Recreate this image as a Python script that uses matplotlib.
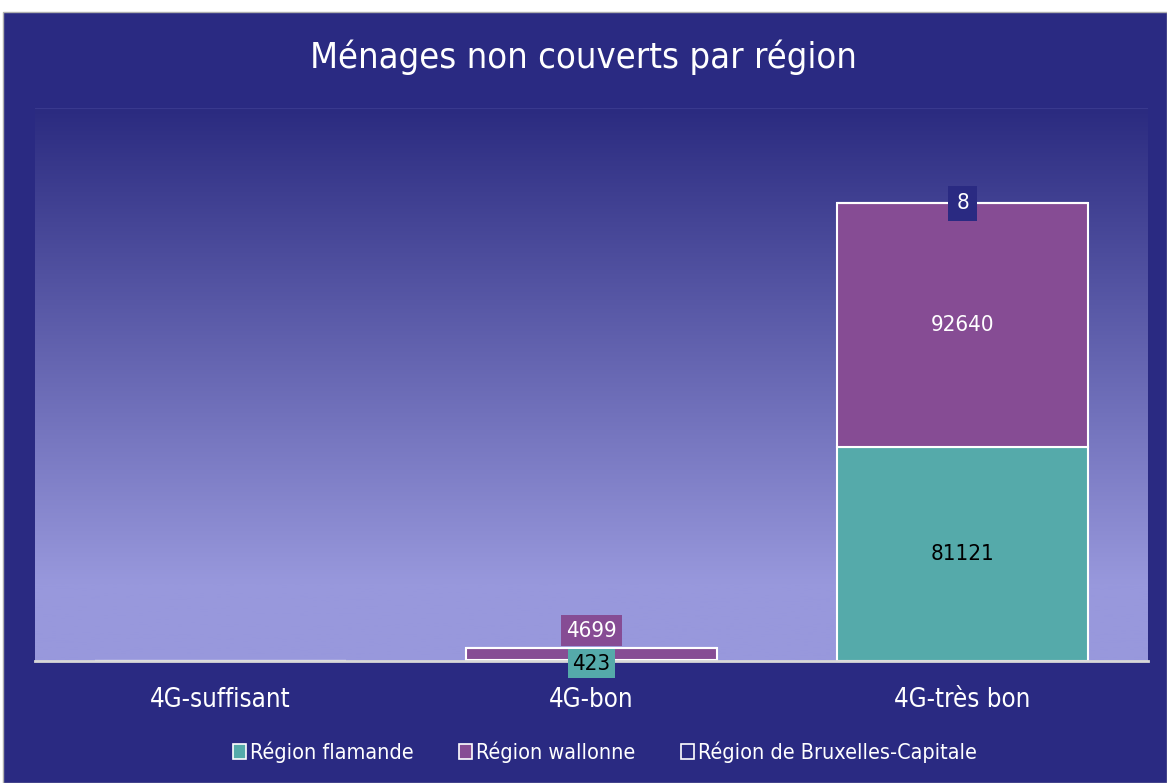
import numpy as np
import matplotlib
matplotlib.use("Agg")
from matplotlib import pyplot as plt
from matplotlib.patches import Rectangle

categories = ["4G-suffisant", "4G-bon", "4G-très bon"]
flamande = [0, 423, 81121]
wallonne = [0, 4699, 92640]
bruxelles = [0, 0, 8]
series_names = ["Région flamande", "Région wallonne", "Région de Bruxelles-Capitale"]

BG = "#2a2a82"
TEAL = "#55aaaa"
PURPLE = "#864c94"

plt.rcParams['font.family'] = ['DejaVu Sans']
plt.rcParams['font.stretch'] = 'condensed'

fig = plt.figure(figsize=(11.67, 7.83), dpi=100, facecolor="white")
# chart frame
fig.patches.append(Rectangle((3 / 1167, 0), 1 - 3 / 1167, 1 - 12 / 783,
                             transform=fig.transFigure, facecolor=BG,
                             edgecolor="#b0b0b0", linewidth=1.0, zorder=0))

ax = fig.add_axes([35 / 1167, 1 - 661 / 783, (1148 - 35) / 1167, (661 - 108) / 783])
ax.set_facecolor("none")
ax.set_zorder(2)

# gradient background
grad = np.linspace(0, 1, 256)
grad = np.clip(grad / 0.86, 0, 1)
top = np.array([0x2b, 0x2b, 0x80]) / 255
bottom = np.array([0x98, 0x98, 0xdc]) / 255
img = top[None, :] * (1 - grad[:, None]) + bottom[None, :] * grad[:, None]
img = img[:, None, :]
ax.imshow(img, extent=[0, 1, 0, 1], transform=ax.transAxes, aspect="auto", zorder=0)

x = np.arange(len(categories))
w = 0.676
fl = np.array(flamande)
wa = np.array(wallonne)
bx = np.array(bruxelles)

b1 = ax.bar(x, fl, w, color=TEAL, edgecolor="white", linewidth=1.5, zorder=2, label=series_names[0])
b2 = ax.bar(x, wa, w, bottom=fl, color=PURPLE, edgecolor="white", linewidth=1.5, zorder=2, label=series_names[1])
b3 = ax.bar(x, bx, w, bottom=fl + wa, color="none", edgecolor="white", linewidth=1.5, zorder=2, label=series_names[2])

ax.set_xlim(-0.5, 2.5)
ax.set_ylim(0, 210000)

# data labels
fs = 16
ax.text(x[2], fl[2] / 2, str(flamande[2]), ha="center", va="center", fontsize=fs, color="black", zorder=4)
ax.text(x[2], fl[2] + wa[2] / 2, str(wallonne[2]), ha="center", va="center", fontsize=fs, color="white", zorder=4)
ax.annotate(str(bruxelles[2]), (x[2], fl[2] + wa[2] + bx[2]), ha="center", va="center",
            fontsize=fs, color="white", zorder=4,
            bbox=dict(boxstyle="square,pad=0.35", facecolor=BG, edgecolor="none"))
ax.annotate(str(wallonne[1]), (x[1], fl[1] + wa[1]), xytext=(0, 12), textcoords="offset points",
            ha="center", va="center", fontsize=fs, color="white", zorder=4,
            bbox=dict(boxstyle="square,pad=0.25", facecolor=PURPLE, edgecolor="none"))
ax.annotate(str(flamande[1]), (x[1], 0), xytext=(0, -2), textcoords="offset points",
            ha="center", va="center", fontsize=fs, color="black", zorder=4,
            bbox=dict(boxstyle="square,pad=0.2", facecolor=TEAL, edgecolor="none"))

# axes styling
for s in ["top", "right", "left"]:
    ax.spines[s].set_visible(False)
ax.spines["bottom"].set_color("#d8d8d8")
ax.spines["bottom"].set_linewidth(2)
ax.spines["bottom"].set_zorder(3)
ax.axhline(210000, color="#3c3c92", linewidth=1.2, zorder=1)
ax.set_yticks([])
ax.set_xticks(x)
ax.set_xticklabels(categories, fontsize=18.5, color="white")
ax.tick_params(axis="x", length=0, pad=19)

fig.text(0.5, 1 - 57 / 783, "Ménages non couverts par région", ha="center", va="center",
         fontsize=26, color="white", zorder=3)

leg = fig.legend(handles=[b1, b2, b3], loc="center", bbox_to_anchor=(605 / 1167, 1 - 752 / 783),
                 ncol=3, frameon=False, fontsize=15.5, labelcolor="white",
                 handlelength=0.6, handleheight=0.7, handletextpad=0.2, columnspacing=2.1)
leg.set_zorder(3)
for h in leg.legend_handles:
    h.set_edgecolor("white")
    h.set_linewidth(1.2)

fig.savefig("out.png", dpi=100, facecolor=fig.get_facecolor())
